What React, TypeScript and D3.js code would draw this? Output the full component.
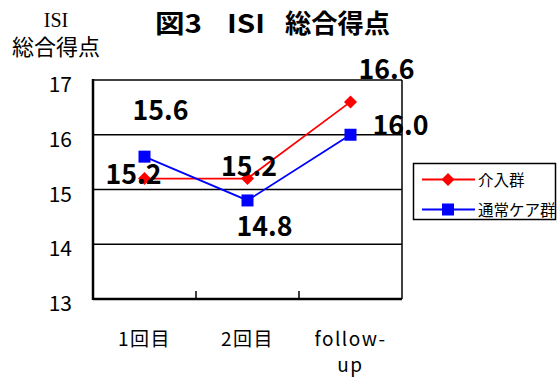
import React from "react";
import * as d3 from "d3";

// Chart data
const categories = ["1回目", "2回目", "follow-up"];
const categoryLines = [["1回目"], ["2回目"], ["follow-", "up"]];
const interventionScores = [15.2, 15.2, 16.6];
const usualCareScores = [15.6, 14.8, 16.0];
const seriesNames = ["介入群", "通常ケア群"];
const yTicks = [13, 14, 15, 16, 17];
const titleParts = ["図3", "ISI", "総合得点"];

// Data label placement relative to each point (dx, dy of baseline)
const interventionLabelOffsets = [
  [-11, 5],
  [1.5, -3],
  [36, -23],
];
const usualCareLabelOffsets = [
  [16, -37],
  [17, 36],
  [50, 0],
];

const W = 557;
const H = 378;
const plot = { left: 93, right: 402, top: 80, bottom: 299 };
const JP = "'Noto Sans CJK JP', 'Noto Sans', sans-serif";
const titleX = [155, 227, 285];
const titleLen = [47, 38, 105];

export default function App() {
  const x = d3
    .scaleBand<string>()
    .domain(categories)
    .range([plot.left, plot.right]);
  const y = d3.scaleLinear().domain([13, 17]).range([plot.bottom, plot.top]);
  const cx = (i: number) => (x(categories[i]) as number) + x.bandwidth() / 2;

  const line = d3
    .line<number>()
    .x((_, i) => cx(i))
    .y((d) => y(d));

  const diamond = (px: number, py: number, r: number) =>
    `M${px},${py - r}L${px + r},${py}L${px},${py + r}L${px - r},${py}Z`;

  const series = [
    { name: seriesNames[0], values: interventionScores, color: "#ff0000", offsets: interventionLabelOffsets, marker: "diamond" },
    { name: seriesNames[1], values: usualCareScores, color: "#0000ff", offsets: usualCareLabelOffsets, marker: "square" },
  ];

  const boundaries = categories.slice(1).map((c) => x(c) as number);

  return (
    <svg
      width={W}
      height={H}
      style={{ position: "absolute", left: 0, top: 0, background: "#fff" }}
    >
      {/* title */}
      {titleParts.map((t, i) => (
        <text
          key={t}
          x={titleX[i]}
          y={33}
          fontFamily={JP}
          fontWeight="bold"
          fontSize={26}
          textLength={titleLen[i]}
          lengthAdjust="spacingAndGlyphs"
        >
          {t}
        </text>
      ))}

      {/* y-axis title */}
      <text x={56} y={27} textAnchor="middle" fontFamily="'Liberation Serif', serif" fontSize={20}>
        ISI
      </text>
      <text x={56} y={55} textAnchor="middle" fontFamily={JP} fontSize={22}>
        総合得点
      </text>

      {/* gridlines */}
      {yTicks.map((t) => (
        <line
          key={t}
          x1={plot.left}
          x2={plot.right}
          y1={y(t)}
          y2={y(t)}
          stroke="#000"
          strokeWidth={1.5}
        />
      ))}
      {/* right frame */}
      <line x1={plot.right} x2={plot.right} y1={plot.top} y2={plot.bottom} stroke="#000" strokeWidth={1.5} />
      {/* axes */}
      <line x1={plot.left} x2={plot.left} y1={plot.top - 1} y2={plot.bottom + 1} stroke="#000" strokeWidth={2.5} />
      <line x1={plot.left} x2={plot.right} y1={plot.bottom} y2={plot.bottom} stroke="#000" strokeWidth={2.5} />
      {boundaries.map((bx, i) => (
        <line key={i} x1={bx} x2={bx} y1={plot.bottom} y2={plot.bottom - 8} stroke="#000" strokeWidth={1.5} />
      ))}

      {/* y tick labels */}
      {yTicks.map((t) => (
        <text key={t} x={72} y={y(t) + 12} textAnchor="end" fontFamily={JP} fontSize={21}>
          {t}
        </text>
      ))}

      {/* x tick labels */}
      {categoryLines.map((lines, i) =>
        lines.map((s, j) => (
          <text
            key={`${i}-${j}`}
            x={cx(i)}
            y={346 + j * 26}
            textAnchor="middle"
            fontFamily={JP}
            fontSize={19}
            letterSpacing={1.5}
          >
            {s}
          </text>
        ))
      )}

      {/* series lines and markers */}
      {series.map((s) => (
        <g key={s.name}>
          <path d={line(s.values) as string} fill="none" stroke={s.color} strokeWidth={1.8} />
          {s.values.map((v, i) =>
            s.marker === "diamond" ? (
              <path key={i} d={diamond(cx(i), y(v), 6.5)} fill={s.color} />
            ) : (
              <rect key={i} x={cx(i) - 6} y={y(v) - 6} width={12} height={12} fill={s.color} />
            )
          )}
        </g>
      ))}

      {/* data labels */}
      {series.map((s) =>
        s.values.map((v, i) => (
          <text
            key={`${s.name}-${i}`}
            x={cx(i) + s.offsets[i][0]}
            y={y(v) + s.offsets[i][1]}
            textAnchor="middle"
            fontFamily={JP}
            fontWeight="bold"
            fontSize={27}
            textLength={56}
            lengthAdjust="spacingAndGlyphs"
          >
            {v.toFixed(1)}
          </text>
        ))
      )}

      {/* legend */}
      <rect x={413.5} y={163.5} width={142} height={56} fill="#fff" stroke="#000" strokeWidth={1.5} />
      {series.map((s, i) => {
        const ly = 179.5 + i * 30;
        return (
          <g key={s.name}>
            <line x1={422} x2={475} y1={ly} y2={ly} stroke={s.color} strokeWidth={1.8} />
            {s.marker === "diamond" ? (
              <path d={diamond(448, ly, 6.5)} fill={s.color} />
            ) : (
              <rect x={442} y={ly - 6} width={12} height={12} fill={s.color} />
            )}
            <text x={478} y={ly + 6} fontFamily={JP} fontSize={15.5}>
              {s.name}
            </text>
          </g>
        );
      })}
    </svg>
  );
}
